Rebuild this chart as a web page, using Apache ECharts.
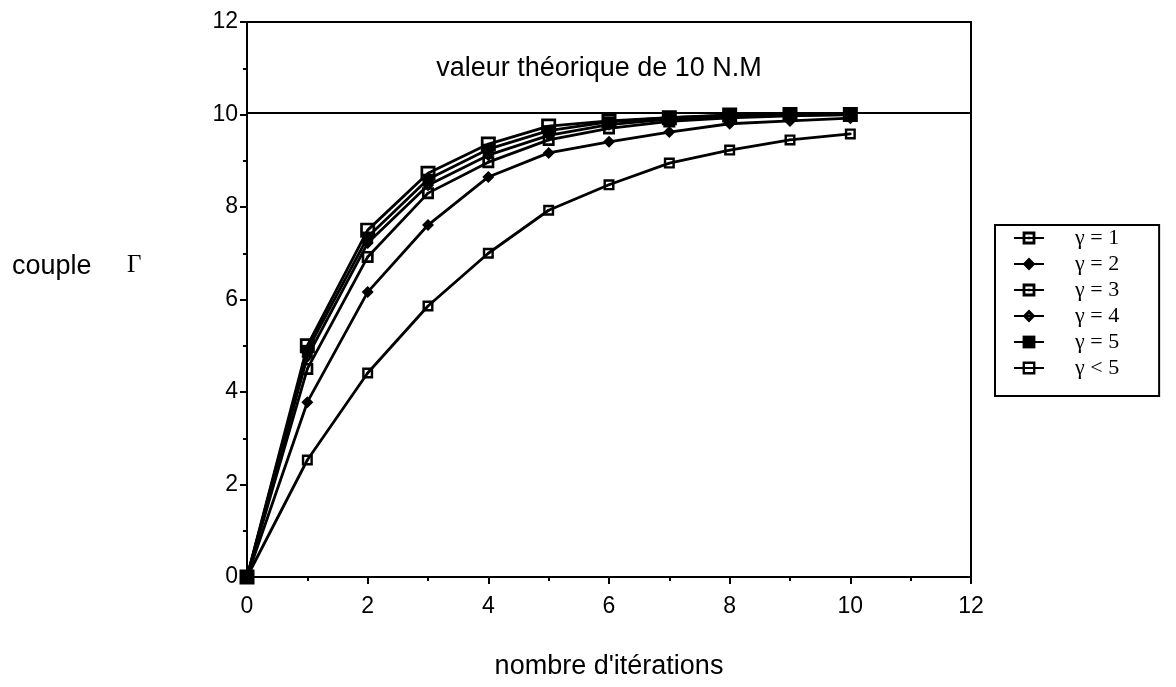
<!DOCTYPE html>
<html>
<head>
<meta charset="utf-8">
<script src="https://cdn.jsdelivr.net/npm/echarts@6/dist/echarts.min.js"></script>
<style>html,body{margin:0;padding:0;background:#fff}#c{width:1176px;height:687px}</style>
</head>
<body>
<div id="c"></div>
<script>
const iterations = [0, 1, 2, 3, 4, 5, 6, 7, 8, 9, 10];
const gamma1 = [0, 2.53, 4.41, 5.86, 7.00, 7.93, 8.48, 8.95, 9.23, 9.45, 9.58];
const gamma2 = [0, 3.78, 6.16, 7.61, 8.65, 9.17, 9.41, 9.62, 9.80, 9.86, 9.92];
const gamma3 = [0, 4.50, 6.92, 8.30, 8.97, 9.45, 9.70, 9.85, 9.93, 9.97, 10.0];
const gamma4 = [0, 4.76, 7.22, 8.47, 9.12, 9.55, 9.78, 9.90, 9.96, 9.98, 10.0];
const gamma5 = [0, 4.90, 7.35, 8.60, 9.25, 9.65, 9.84, 9.93, 9.98, 10.0, 10.0];
const gammaLt5 = [0, 5.00, 7.50, 8.73, 9.36, 9.75, 9.86, 9.93, 9.99, 10.0, 10.0];
const seriesNames = ['γ = 1', 'γ = 2', 'γ = 3', 'γ = 4', 'γ = 5', 'γ < 5'];
const theoreticalValue = 10.04;
const theoreticalLabel = 'valeur théorique de 10 N.M';
const xLabel = "nombre d'itérations";
const yLabelWord = 'couple';
const yLabelSymbol = 'Γ';

const SYM = {
  dotSquare: 'path://M0,0L10,0L10,10L0,10Z M2.2,2.2L2.2,7.8L7.8,7.8L7.8,2.2Z M4,4L6,4L6,6L4,6Z',
  diamond: 'diamond',
  dotDiamond: 'path://M5,0L10,5L5,10L0,5Z M5,3.6L3.6,5L5,6.4L6.4,5Z',
  square: 'rect',
  openSquare: 'path://M0,0L10,0L10,10L0,10Z M1.8,1.8L1.8,8.2L8.2,8.2L8.2,1.8Z'
};

function pairs(arr) { return iterations.map((x, i) => [x, arr[i]]); }

const defs = [
  [gamma1, SYM.dotSquare, 11],
  [gamma2, SYM.diamond, 12],
  [gamma3, SYM.dotSquare, 12],
  [gamma4, SYM.dotDiamond, 12],
  [gamma5, SYM.square, 11],
  [gammaLt5, SYM.openSquare, 15]
];

const series = defs.map((d, i) => ({
  name: seriesNames[i],
  type: 'line',
  data: pairs(d[0]),
  symbol: d[1],
  symbolSize: d[2],
  showAllSymbol: true,
  lineStyle: { color: '#000', width: 2.8 },
  itemStyle: { color: '#000', borderWidth: 0 },
  emphasis: { disabled: true },
  z: 3 + i,
  animation: false
}));

series[0].markLine = {
  silent: true,
  symbol: 'none',
  animation: false,
  label: { show: false },
  lineStyle: { color: '#000', width: 2, type: 'solid' },
  data: [{ yAxis: theoreticalValue }]
};

const SANS = 'Liberation Sans, Arial, Helvetica, sans-serif';
const SERIF = 'Liberation Serif, Times New Roman, serif';

const chart = echarts.init(document.getElementById('c'));
chart.setOption({
  backgroundColor: '#fff',
  animation: false,
  textStyle: { fontFamily: SANS },
  grid: {
    left: 247, right: 205, top: 22, bottom: 110,
    show: true, borderColor: '#000', borderWidth: 2
  },
  xAxis: {
    type: 'value', min: 0, max: 12, interval: 2,
    name: xLabel, nameLocation: 'middle', nameGap: 76,
    nameTextStyle: { fontSize: 27, color: '#000', fontFamily: SANS },
    axisLine: { show: true, onZero: false, lineStyle: { color: '#000', width: 2 } },
    axisTick: { show: true, length: 7, lineStyle: { color: '#000', width: 2 } },
    minorTick: { show: true, splitNumber: 2, length: 4, lineStyle: { color: '#000', width: 2 } },
    axisLabel: { fontSize: 23, color: '#000', margin: 18, fontFamily: SANS },
    splitLine: { show: false }
  },
  yAxis: {
    type: 'value', min: 0, max: 12, interval: 2,
    axisLine: { show: true, onZero: false, lineStyle: { color: '#000', width: 2 } },
    axisTick: { show: true, length: 7, lineStyle: { color: '#000', width: 2 } },
    minorTick: { show: true, splitNumber: 2, length: 4, lineStyle: { color: '#000', width: 2 } },
    axisLabel: { fontSize: 23, color: '#000', margin: 9, fontFamily: SANS },
    splitLine: { show: false }
  },
  legend: {
    orient: 'vertical',
    left: 995, top: 225,
    padding: [2, 40, 17, 18],
    itemGap: 4,
    itemWidth: 30, itemHeight: 16,
    borderColor: '#000', borderWidth: 2,
    backgroundColor: '#fff',
    selectedMode: false,
    textStyle: { fontSize: 22, lineHeight: 20, color: '#000', fontFamily: SERIF, padding: [0, 0, 0, 26] },
    data: seriesNames
  },
  graphic: [
    {
      type: 'text', x: 599, y: 69,
      style: { text: theoreticalLabel, fill: '#000', fontSize: 27, fontFamily: SANS, align: 'center', verticalAlign: 'middle' }
    },
    {
      type: 'text', x: 12, y: 267,
      style: { text: yLabelWord, fill: '#000', fontSize: 27, fontFamily: SANS, align: 'left', verticalAlign: 'middle' }
    },
    {
      type: 'text', x: 127, y: 265,
      style: { text: yLabelSymbol, fill: '#000', fontSize: 25, fontFamily: SERIF, align: 'left', verticalAlign: 'middle' }
    }
  ],
  series: series
});
</script>
</body>
</html>
